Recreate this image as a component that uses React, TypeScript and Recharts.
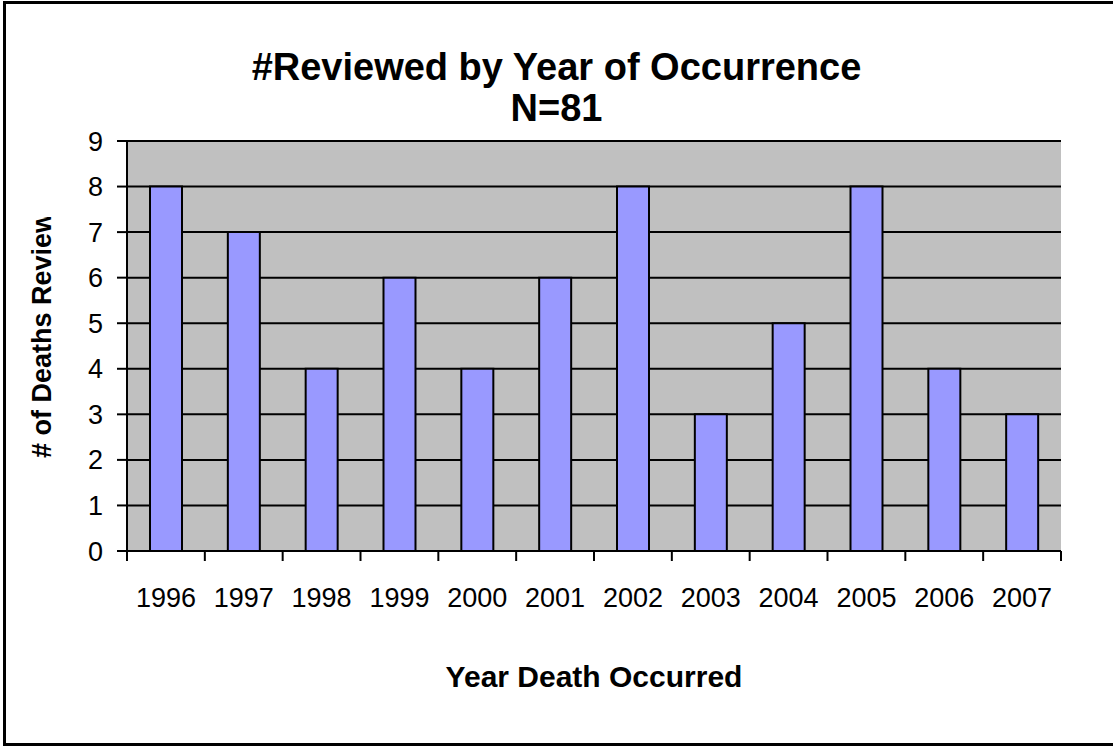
import { BarChart, Bar, XAxis, YAxis, CartesianGrid } from "recharts";

const years = ["1996", "1997", "1998", "1999", "2000", "2001", "2002", "2003", "2004", "2005", "2006", "2007"];
const reviewed = [8, 7, 4, 6, 4, 6, 8, 3, 5, 8, 4, 3];
const yTicks = [0, 1, 2, 3, 4, 5, 6, 7, 8, 9];

const data = years.map((y, i) => ({ year: y, n: reviewed[i] }));

const FONT = "'Liberation Sans', Arial, sans-serif";
const W = 1113;
const H = 746;
const PLOT_LEFT = 127;
const PLOT_RIGHT = 1061;

const YearTick = (props: any) => {
  const { x, y, payload, index } = props;
  const half = payload?.offset || (PLOT_RIGHT - PLOT_LEFT) / years.length / 2;
  const top = y - 10;
  return (
    <g>
      <line x1={x - half} y1={top} x2={x - half} y2={top + 10} stroke="#000" strokeWidth={2} />
      {index === years.length - 1 && (
        <line x1={x + half} y1={top} x2={x + half} y2={top + 10} stroke="#000" strokeWidth={2} />
      )}
      <text x={x} y={top + 56} textAnchor="middle" fontSize={27} fill="#000" fontFamily={FONT}>
        {payload.value}
      </text>
    </g>
  );
};

export default function App() {
  return (
    <div style={{ position: "absolute", left: 0, top: 0, width: W, height: H, background: "#fff" }}>
      <BarChart width={W} height={H} data={data} margin={{ top: 141, right: W - PLOT_RIGHT, left: 0, bottom: 135 }}>
        <CartesianGrid vertical={false} fill="#c0c0c0" fillOpacity={1} stroke="#000" strokeWidth={2} />
        <XAxis
          dataKey="year"
          height={60}
          tick={<YearTick />}
          tickLine={false}
          tickSize={10}
          tickMargin={0}
          axisLine={{ stroke: "#000", strokeWidth: 2 }}
          interval={0}
        />
        <YAxis
          width={PLOT_LEFT}
          domain={[0, 9]}
          ticks={yTicks}
          interval={0}
          tickSize={10}
          tickMargin={14}
          tick={{ fontSize: 27, fill: "#000", fontFamily: FONT }}
          tickLine={{ stroke: "#000", strokeWidth: 2 }}
          axisLine={{ stroke: "#000", strokeWidth: 2 }}
        />
        <Bar dataKey="n" barSize={32} fill="#9999ff" stroke="#000" strokeWidth={2} isAnimationActive={false} />
      </BarChart>
      <svg width={W} height={H} style={{ position: "absolute", left: 0, top: 0, pointerEvents: "none" }}>
        <defs>
          <clipPath id="ylab">
            <rect x={0} y={217} width={120} height={400} />
          </clipPath>
        </defs>
        <path d={`M ${W + 5} 2.5 L 4.5 2.5 L 4.5 744.5 L ${W + 5} 744.5`} fill="none" stroke="#000" strokeWidth={3} />
        <text x={W / 2} y={80} textAnchor="middle" fontSize={38} fontWeight="bold" fontFamily={FONT}>
          #Reviewed by Year of Occurrence
        </text>
        <text x={W / 2} y={121} textAnchor="middle" fontSize={38} fontWeight="bold" fontFamily={FONT}>
          N=81
        </text>
        <g clipPath="url(#ylab)">
          <text x={0} y={0} transform="translate(51 458) rotate(-90)" fontSize={27} fontWeight="bold" fontFamily={FONT}>
            # of Deaths Reviewed
          </text>
        </g>
        <text x={(PLOT_LEFT + PLOT_RIGHT) / 2} y={687} textAnchor="middle" fontSize={30} fontWeight="bold" fontFamily={FONT}>
          Year Death Occurred
        </text>
      </svg>
    </div>
  );
}
